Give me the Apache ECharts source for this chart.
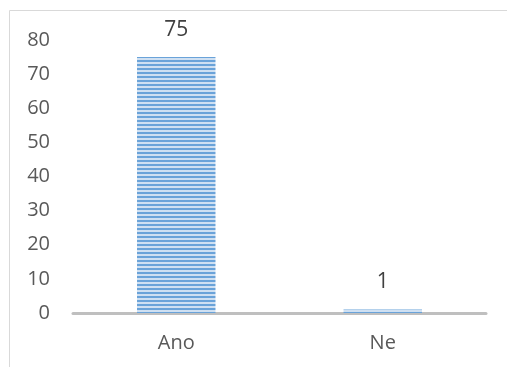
<!DOCTYPE html>
<html>
<head>
<meta charset="utf-8">
<script src="https://cdn.jsdelivr.net/npm/echarts@6/dist/echarts.min.js"></script>
<style>
  html, body { margin: 0; padding: 0; background: #fff; }
  #chart { width: 507px; height: 367px; }
</style>
</head>
<body>
<div id="chart"></div>
<script>
// Answer categories and counts
const categories = ['Ano', 'Ne'];
const counts = [75, 1];
const yTicks = [0, 10, 20, 30, 40, 50, 60, 70, 80];

// Horizontal stripe fill for the bars
function stripePattern() {
  const c = document.createElement('canvas');
  c.width = 8; c.height = 4;
  const ctx = c.getContext('2d');
  ctx.fillStyle = '#cfe0f2';
  ctx.fillRect(0, 0, 8, 4);
  ctx.fillStyle = '#6aa3d9';
  ctx.fillRect(0, 0, 8, 2);
  return c;
}

const chart = echarts.init(document.getElementById('chart'), null, { renderer: 'canvas' });
const font = '"Open Sans", "Liberation Sans", sans-serif';

chart.setOption({
  animation: false,
  graphic: [{
    type: 'rect',
    shape: { x: 9.5, y: 10.5, width: 700, height: 700 },
    style: { fill: 'none', stroke: '#d9d9d9', lineWidth: 1 },
    silent: true
  }],
  grid: { left: 73, right: 21, top: 40, bottom: 54 },
  xAxis: {
    type: 'category',
    data: categories,
    axisLine: { lineStyle: { color: '#bfbfbf', width: 3 } },
    axisTick: { show: false },
    axisLabel: { color: '#595959', fontSize: 20, fontFamily: font, margin: 20 }
  },
  yAxis: {
    type: 'value',
    min: yTicks[0],
    max: yTicks[yTicks.length - 1],
    interval: 10,
    axisLine: { show: false },
    axisTick: { show: false },
    splitLine: { show: false },
    axisLabel: { color: '#595959', fontSize: 20, fontFamily: font, margin: 23 }
  },
  series: [{
    type: 'bar',
    data: counts,
    barWidth: '38%',
    itemStyle: { color: { image: stripePattern(), repeat: 'repeat' } },
    label: {
      show: true,
      position: 'top',
      distance: 17,
      color: '#404040',
      fontSize: 21,
      fontFamily: font
    }
  }]
});
</script>
</body>
</html>
